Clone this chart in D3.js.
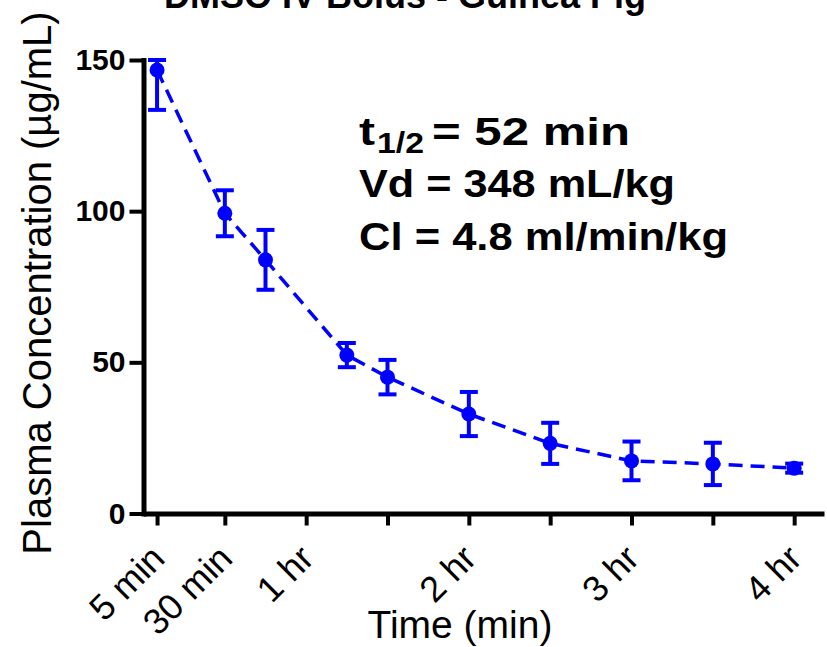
<!DOCTYPE html>
<html>
<head>
<meta charset="utf-8">
<script src="https://cdn.jsdelivr.net/npm/d3@7"></script>
<style>
  html, body { margin: 0; padding: 0; background: #fff; }
  svg { display: block; font-family: Arial, "Liberation Sans", sans-serif; }
</style>
</head>
<body>
<svg id="chart" width="827" height="647"></svg>
<script>
// ---- data ----
const title = "DMSO IV Bolus - Guinea Pig";
const times = [5, 30, 45, 75, 90, 120, 150, 180, 210, 240];          // minutes
const concMean = [146.7, 99.3, 83.9, 52.4, 45.1, 32.9, 23.2, 17.4, 16.4, 15.0];
const concSEM  = [13.2, 7.6, 9.9, 4.0, 5.7, 7.3, 6.8, 6.4, 7.0, 1.5];
const xTickValues = [5, 30, 60, 90, 120, 150, 180, 210, 240];
const xTickLabels = ["5 min", "30 min", "1 hr", "", "2 hr", "", "3 hr", "", "4 hr"];
const yTickValues = [0, 50, 100, 150];
const annotHalfLife = { main: "t", sub: "1/2", rest: "= 52 min" };
const annotVd = "Vd = 348 mL/kg";
const annotCl = "Cl = 4.8 ml/min/kg";

// ---- layout ----
const svg = d3.select("#chart");
const blue = "#0000ff";
const font = "Arial, 'Liberation Sans', sans-serif";
const x = d3.scaleLinear().domain([0, 251]).range([143.5, 824]);
const y = d3.scaleLinear().domain([0, 150]).range([513.5, 60]);

// title (cut off at the top edge, as in the reference)
svg.append("text")
  .attr("x", 405).attr("y", 7.5)
  .attr("text-anchor", "middle")
  .attr("font-size", 36).attr("font-weight", "bold")
  .text(title);

// y axis
const yAxis = d3.axisLeft(y).tickValues(yTickValues).tickSize(14).tickSizeOuter(0).tickPadding(4);
const gy = svg.append("g").attr("transform", `translate(${x(0)},0)`).call(yAxis);
gy.select(".domain").attr("stroke", "#000").attr("stroke-width", 5).attr("stroke-linecap", "square");
gy.selectAll(".tick line").attr("stroke", "#000").attr("stroke-width", 4);
gy.selectAll(".tick text").attr("font-size", 30).attr("font-weight", "bold")
  .attr("font-family", font).attr("fill", "#000");

// x axis
const xAxis = d3.axisBottom(x).tickValues(xTickValues).tickSize(12).tickSizeOuter(0)
  .tickFormat((d, i) => xTickLabels[i]);
const gx = svg.append("g").attr("transform", `translate(0,${y(0)})`).call(xAxis);
gx.select(".domain").attr("stroke", "#000").attr("stroke-width", 5);
gx.selectAll(".tick line").attr("stroke", "#000").attr("stroke-width", 4);
gx.selectAll(".tick text")
  .attr("font-size", 36)
  .attr("font-family", font).attr("fill", "#000")
  .attr("text-anchor", "end")
  .attr("dy", null).attr("y", null)
  .attr("transform", "translate(9,47) rotate(-45)");

// axis titles
svg.append("text")
  .attr("transform", `translate(51,283) rotate(-90)`)
  .attr("text-anchor", "middle")
  .attr("font-size", 40)
  .text("Plasma Concentration (µg/mL)");
svg.append("text")
  .attr("x", 460).attr("y", 638)
  .attr("text-anchor", "middle")
  .attr("font-size", 39)
  .text("Time (min)");

// series
const pts = times.map((t, i) => ({ t, m: concMean[i], s: concSEM[i] }));
const line = d3.line().x(d => x(d.t)).y(d => y(d.m));
svg.append("path").datum(pts)
  .attr("d", line)
  .attr("fill", "none").attr("stroke", blue).attr("stroke-width", 3.5)
  .attr("stroke-dasharray", "14,8");

const eb = svg.append("g").attr("stroke", blue).attr("stroke-width", 4);
const cap = 9;
pts.forEach(d => {
  const lo = y(Math.max(0, d.m - d.s));
  const hi = y(Math.min(150, d.m + d.s));
  eb.append("line").attr("x1", x(d.t)).attr("x2", x(d.t)).attr("y1", lo).attr("y2", hi);
  eb.append("line").attr("x1", x(d.t) - cap).attr("x2", x(d.t) + cap).attr("y1", lo).attr("y2", lo);
  eb.append("line").attr("x1", x(d.t) - cap).attr("x2", x(d.t) + cap).attr("y1", hi).attr("y2", hi);
});
svg.append("g").selectAll("circle").data(pts).join("circle")
  .attr("cx", d => x(d.t)).attr("cy", d => y(d.m)).attr("r", 7.5).attr("fill", blue);

// annotation (glyphs are slightly wide in the reference, so stretch to measured widths)
const ann = svg.append("g").attr("font-weight", "bold").attr("font-size", 38).attr("fill", "#000");
ann.append("text").attr("x", 359).attr("y", 145).text(annotHalfLife.main)
  .attr("textLength", 16).attr("lengthAdjust", "spacingAndGlyphs");
ann.append("text").attr("x", 377).attr("y", 153).attr("font-size", 29).text(annotHalfLife.sub)
  .attr("textLength", 47).attr("lengthAdjust", "spacingAndGlyphs");
ann.append("text").attr("x", 432).attr("y", 145).text(annotHalfLife.rest)
  .attr("textLength", 198).attr("lengthAdjust", "spacingAndGlyphs");
ann.append("text").attr("x", 359).attr("y", 197).text(annotVd)
  .attr("textLength", 316).attr("lengthAdjust", "spacingAndGlyphs");
ann.append("text").attr("x", 359).attr("y", 250).text(annotCl)
  .attr("textLength", 369).attr("lengthAdjust", "spacingAndGlyphs");
</script>
</body>
</html>
